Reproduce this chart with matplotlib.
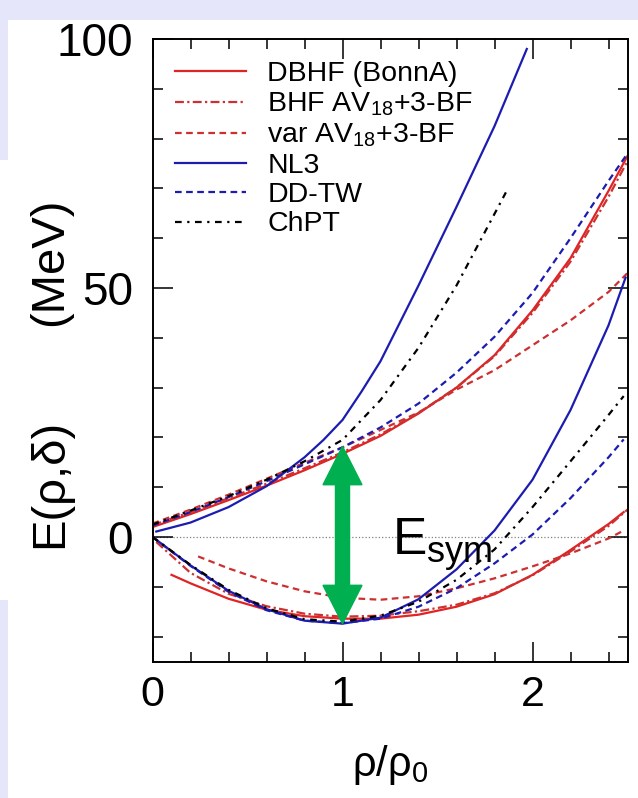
import numpy as np
import matplotlib
matplotlib.use("Agg")
import matplotlib.pyplot as plt
from matplotlib.patches import Rectangle, FancyArrow
from matplotlib.ticker import MultipleLocator

plt.rcParams["font.family"] = ["Liberation Sans", "DejaVu Sans"]
plt.rcParams["mathtext.fontset"] = "custom"
plt.rcParams["mathtext.rm"] = "Liberation Sans"
plt.rcParams["mathtext.it"] = "Liberation Sans:italic"

# 纯中子物质 (上面一组曲线)
grid_x = [0, 0.2, 0.4, 0.6, 0.8, 1.0, 1.2, 1.4, 1.6, 1.8, 2.0, 2.2, 2.4, 2.5]
dbhf_nm = [2.0, 4.6, 7.4, 10.3, 13.4, 16.7, 20.3, 24.8, 30.0, 36.5, 45.5, 56.0, 69.5, 76.5]
bhf_nm = [2.4, 5.0, 7.8, 10.7, 13.8, 17.0, 20.6, 24.9, 30.0, 36.3, 45.0, 55.3, 68.3, 75.5]
var_nm = [2.7, 5.5, 8.5, 11.7, 14.9, 18.0, 21.5, 25.0, 29.6, 33.5, 38.5, 43.5, 49.2, 53.0]
ddtw_nm = [2.3, 5.0, 8.0, 11.2, 14.6, 18.0, 22.0, 26.8, 33.0, 40.2, 49.0, 60.0, 71.5, 77.0]

nl3_nm_x = [0.02, 0.2, 0.4, 0.6, 0.8, 0.9, 1.0, 1.1, 1.2, 1.4, 1.6, 1.8, 1.97]
nl3_nm = [1.1, 2.9, 6.0, 10.2, 16.0, 19.5, 23.5, 29.2, 35.3, 50.5, 66.3, 82.5, 98.0]

chpt_nm_x = [0, 0.2, 0.4, 0.6, 0.8, 1.0, 1.2, 1.4, 1.6, 1.86]
chpt_nm = [2.5, 5.3, 8.2, 11.5, 15.2, 19.5, 27.5, 38.0, 50.5, 69.2]

# 对称核物质 (下面一组曲线)
nl3_snm_x = [0, 0.2, 0.4, 0.6, 0.8, 1.0, 1.2, 1.4, 1.6, 1.8, 2.0, 2.2, 2.4, 2.49]
nl3_snm = [0, -5.7, -10.8, -14.5, -16.8, -17.4, -16.2, -12.5, -6.5, 1.3, 11.5, 25.5, 42.5, 52.1]

chpt_snm_x = [0, 0.2, 0.4, 0.6, 0.8, 1.0, 1.2, 1.4, 1.6, 1.8, 2.0, 2.2, 2.4, 2.48]
chpt_snm = [0, -5.6, -10.6, -14.3, -16.5, -17.0, -15.8, -13.0, -8.6, -2.5, 6.0, 15.2, 24.5, 28.3]

ddtw_snm_x = [0, 0.2, 0.4, 0.6, 0.8, 1.0, 1.2, 1.4, 1.6, 1.8, 2.0, 2.2, 2.4, 2.48]
ddtw_snm = [0, -5.8, -11.0, -14.7, -16.8, -17.3, -16.4, -14.0, -10.3, -5.3, 0.5, 7.8, 16.0, 19.6]

dbhf_snm_x = [0.1, 0.2, 0.4, 0.6, 0.8, 1.0, 1.2, 1.4, 1.6, 1.8, 2.0, 2.2, 2.4, 2.48]
dbhf_snm = [-7.6, -9.3, -12.4, -14.6, -15.9, -16.4, -16.4, -15.6, -14.0, -11.5, -7.6, -2.6, 2.6, 5.0]

var_snm_x = [0.24, 0.4, 0.6, 0.8, 1.0, 1.2, 1.4, 1.6, 1.8, 2.0, 2.2, 2.4, 2.47]
var_snm = [-3.9, -6.3, -8.9, -10.9, -12.2, -12.6, -11.9, -10.3, -8.3, -5.9, -3.3, -0.3, 1.1]

bhf_snm_x = [0.02, 0.2, 0.4, 0.6, 0.8, 1.0, 1.2, 1.4, 1.6, 1.8, 2.0, 2.2, 2.4, 2.5]
bhf_snm = [-1.0, -7.2, -11.4, -13.9, -15.4, -16.0, -15.8, -14.9, -13.6, -11.3, -7.7, -2.9, 2.2, 5.5]

labels = ["DBHF (BonnA)", "BHF AV$\\mathregular{_{18}}$+3-BF", "var AV$\\mathregular{_{18}}$+3-BF",
          "NL3", "DD-TW", "ChPT"]

red = "#e02424"
red2 = "#cc3030"
blue = "#1c1cb0"
green = "#00b050"

fig = plt.figure(figsize=(6.38, 7.98), dpi=100)
fig.patch.set_facecolor("#e6e6fa")
# 白色底板 (截图的样子)
fig.patches.append(Rectangle((8 / 638, 0), 1, 1 - 20 / 798, transform=fig.transFigure,
                             facecolor="white", edgecolor="none", zorder=-10))
fig.patches.append(Rectangle((0, 1 - 600 / 798), 0.1, 440 / 798, transform=fig.transFigure,
                             facecolor="white", edgecolor="none", zorder=-10))

ax = fig.add_axes([152.5 / 638, 1 - 661.5 / 798, 475 / 638, 622.5 / 798])
ax.set_facecolor("white")

lw = 1.6
dashdot = (0, (4, 1.5, 1, 1.5))
dashed = (0, (3, 2))
chpt_ls = (0, (3, 2.5, 1, 2.5))
h1, = ax.plot(grid_x, dbhf_nm, color=red, lw=lw, ls="-")
h2, = ax.plot(grid_x, bhf_nm, color=red2, lw=lw, ls=dashdot)
h3, = ax.plot(grid_x, var_nm, color=red2, lw=lw, ls=dashed)
h4, = ax.plot(nl3_nm_x, nl3_nm, color=blue, lw=lw, ls="-")
h5, = ax.plot(grid_x, ddtw_nm, color=blue, lw=lw, ls=dashed)
h6, = ax.plot(chpt_nm_x, chpt_nm, color="black", lw=lw, ls=chpt_ls)

ax.plot(dbhf_snm_x, dbhf_snm, color=red, lw=lw, ls="-")
ax.plot(bhf_snm_x, bhf_snm, color=red2, lw=lw, ls=dashdot)
ax.plot(var_snm_x, var_snm, color=red2, lw=lw, ls=dashed)
ax.plot(nl3_snm_x, nl3_snm, color=blue, lw=lw, ls="-")
ax.plot(ddtw_snm_x, ddtw_snm, color=blue, lw=lw, ls=dashed)
ax.plot(chpt_snm_x, chpt_snm, color="black", lw=lw, ls=chpt_ls)

ax.axhline(0, color="gray", ls=":", lw=0.9, zorder=0)

# 绿色双箭头 E_sym
arrow_x = 1.0
arrow_top = 18.2
arrow_bot = -17.4
mid = (arrow_top + arrow_bot) / 2
for tip in (arrow_top, arrow_bot):
    ax.add_patch(FancyArrow(arrow_x, mid, 0, tip - mid, width=0.074, head_width=0.205,
                            head_length=7.7, length_includes_head=True,
                            color=green, zorder=5))
ax.text(1.26, -3.6, "$\\mathregular{E_{sym}}$", fontsize=37, ha="left", va="baseline")

ax.set_xlim(0, 2.5)
ax.set_ylim(-25, 100)
ax.set_xticks([0, 1, 2])
ax.set_yticks([0, 50, 100])
ax.xaxis.set_minor_locator(MultipleLocator(0.2))
ax.yaxis.set_minor_locator(MultipleLocator(10))
ax.tick_params(which="both", direction="in", top=True, right=True, width=1.1)
ax.tick_params(which="major", length=14.4)
ax.tick_params(which="minor", length=7.2)
ax.tick_params(axis="x", labelsize=31, pad=10)
ax.tick_params(axis="y", labelsize=33, pad=14)
for sp in ax.spines.values():
    sp.set_linewidth(1.4)

ax.set_xlabel("ρ/ρ$\\mathregular{_0}$", fontsize=30)
ax.xaxis.set_label_coords(0.5, -0.131)
fig.text(50 / 638, 1 - 483 / 798, "E(ρ,δ)", rotation=90, ha="center", va="center", fontsize=34)
fig.text(50 / 638, 1 - 262 / 798, "(MeV)", rotation=90, ha="center", va="center", fontsize=34)

ax.legend([h1, h2, h3, h4, h5, h6], labels, loc="upper left", bbox_to_anchor=(0.047, 0.964),
          frameon=False, fontsize=20.5, handlelength=2.5, handletextpad=0.75,
          labelspacing=0.12, borderpad=0, borderaxespad=0)

fig.savefig("out.png", dpi=100, facecolor=fig.get_facecolor())
